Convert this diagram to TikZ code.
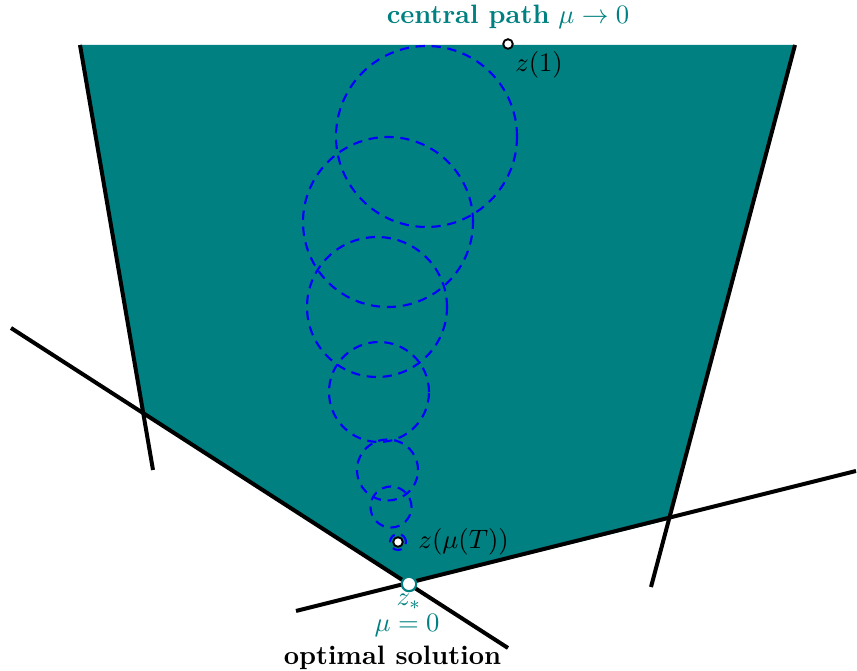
\documentclass[tikz,border=0pt]{standalone}
\usepackage{tikz}
\usepackage{xcolor}
\usetikzlibrary{positioning}
\definecolor{region}{RGB}{0,128,128}

\begin{document}
\begin{tikzpicture}[x=0.0132cm, y=0.0132cm,
  constraint/.style={black, line width=1.5pt},
  ball/.style={blue, line width=0.8pt, dash pattern=on 3.5pt off 2.5pt},
  iterate/.style={circle, draw=black, fill=white, line width=0.7pt, inner sep=0pt, minimum size=3.6pt}]
  \useasboundingbox (0,0) rectangle (857,671);

  % feasible region
  \coordinate (ta) at (80,626);
  \coordinate (tb) at (795,626);
  \coordinate (rc) at (668,151);
  \coordinate (opt) at (409,87);
  \coordinate (ld) at (143,258);
  \fill[region] (ta) -- (tb) -- (rc) -- (opt) -- (ld) -- cycle;

  % constraint lines
  \coordinate (lend) at (153,201);
  \coordinate (dstart) at (11,343);
  \coordinate (dend) at (508,23);
  \coordinate (bstart) at (296,60);
  \coordinate (bend) at (856,200);
  \coordinate (rend) at (651,84);
  \draw[constraint] (ta) -- (lend);
  \draw[constraint] (dstart) -- (dend);
  \draw[constraint] (bstart) -- (bend);
  \draw[constraint] (tb) -- (rend);

  % balls along the central path
  \foreach \cx/\cy/\r in {426.5/534.5/90.5, 388/449/85, 377/364/70, 379/279/50,
                          387.5/201/30.5, 391/164/20.5, 398/129/8}
    \draw[ball] (\cx,\cy) circle[radius=\r];

  % iterates
  \node[iterate] (z1) at (508,627) {};
  \node[iterate] (zT) at (398,129) {};
  \node[iterate, draw=region, fill=white, line width=0.8pt, minimum size=5.4pt] (zs) at (opt) {};

  \node[above=0pt of z1, text=region] (cpath) {\textbf{central path} $\mu \to 0$};
  \node[anchor=north west, inner sep=1pt] (z1lab) at (z1.south east) {$z(1)$};
  \node[right=2pt of zT] (zTlab) {$z(\mu(T))$};
  \node[below=0pt of zs, inner sep=0.5pt, text=region] (zslab) {$z_*$};
  \node[below=0pt of zslab, xshift=-0.7pt, inner sep=1pt, text=region] (mulab) {$\mu = 0$};
  \node[below=1pt of mulab, xshift=-5.5pt, inner sep=1pt] (optlab) {\textbf{optimal solution}};
\end{tikzpicture}
\end{document}
